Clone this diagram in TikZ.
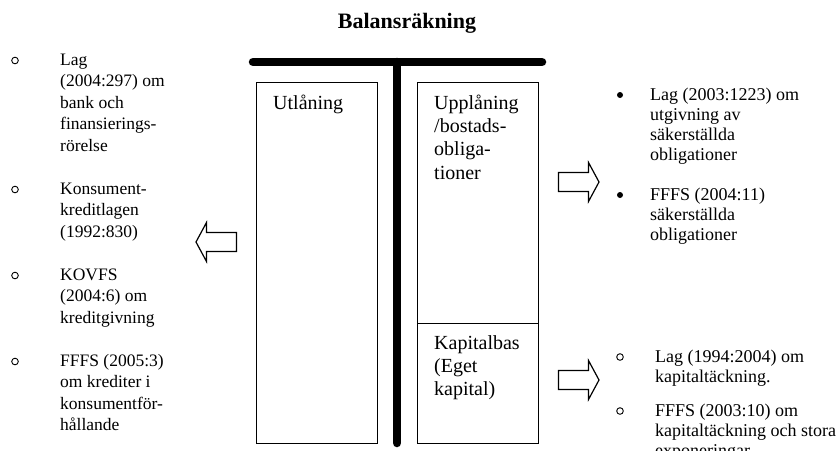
\documentclass[tikz,border=0pt]{standalone}
\usepackage{fontspec}
\setmainfont{Liberation Serif}
\begin{document}
\begin{tikzpicture}[x=1pt,y=-1pt,
  bar/.style={line width=8.5pt,line cap=round},
  box/.style={draw,line width=1.2pt,inner sep=0pt,anchor=north west,minimum width=121pt},
  boxtext/.style={anchor=north west,inner sep=0pt,align=left,font=\fontsize{20}{23.3}\selectfont},
  lefttext/.style={anchor=north west,inner sep=0pt,align=left,font=\fontsize{17.5}{21.5}\selectfont},
  righttext/.style={anchor=north west,inner sep=0pt,align=left,font=\fontsize{18}{20}\selectfont},
  ring/.style={draw,line width=0.9pt,circle,inner sep=0pt,minimum size=6.6pt},
  dot/.style={fill,circle,inner sep=0pt,minimum size=6pt},
  blockarrow/.pic={\draw[line width=1.2pt,line join=miter]
    (0,0) -- (10.5,-19.5) -- (10.5,-9.5) -- (40.5,-9.5) -- (40.5,9.5)
    -- (10.5,9.5) -- (10.5,19.5) -- cycle;}
]
\useasboundingbox (0,0) rectangle (838,450);

% title
\node (title) [font=\bfseries\fontsize{22}{26}\selectfont,anchor=base,inner sep=0pt]
  at (407,28) {Balansräkning};

% balance sheet frame
\coordinate (tl) at (253,62);
\coordinate (tr) at (542,62);
\coordinate (tm) at (397,62);
\coordinate (tb) at (397,443);
\draw[bar] (tl) -- (tr);
\draw[bar] (tm) -- (tb);

\node (assets) [box,minimum height=361pt] at (256,82) {};
\node (debt)   [box,minimum height=241pt] at (417,82) {};
\node (equity) [box,minimum height=120pt] at (417,323) {};

\node (tassets) [boxtext] at (273,92.7) {\strut Utlåning};
\node (tdebt)   [boxtext] at (434,92.7) {\strut Upplåning\\/bostads-\\obliga-\\tioner};
\node (tequity) [boxtext] at (434,332.7) {\strut Kapitalbas\\(Eget\\kapital)};

% arrows
\pic at (196,242) {blockarrow};
\pic[rotate=180] at (599,182) {blockarrow};
\pic[rotate=180] at (599,380) {blockarrow};

% left list
\node (b1) [ring] at (15,60.5) {};
\node (l1) [lefttext] at (60,49.95) {\strut Lag\\(2004:297) om\\bank och\\finansierings-\\rörelse};
\node (b2) [ring] at (15,189.5) {};
\node (l2) [lefttext] at (60,178.95) {\strut Konsument-\\kreditlagen\\(1992:830)};
\node (b3) [ring] at (15,275.5) {};
\node (l3) [lefttext] at (60,264.95) {\strut KOVFS\\(2004:6) om\\kreditgivning};
\node (b4) [ring] at (15,361.5) {};
\node (l4) [lefttext] at (60,350.95) {\strut FFFS (2005:3)\\om krediter i\\konsumentför-\\hållande};

% upper right list
\node (r1b) [dot] at (620,95) {};
\node (r1) [righttext] at (650,86) {\strut Lag (2003:1223) om\\utgivning av\\säkerställda\\obligationer};
\node (r2b) [dot] at (620,195) {};
\node (r2) [righttext] at (650,186) {\strut FFFS (2004:11)\\säkerställda\\obligationer};

% lower right list
\node (r3b) [ring] at (620,357) {};
\node (r3) [righttext] at (655,348) {\strut Lag (1994:2004) om\\kapitaltäckning.};
\node (r4b) [ring] at (620,411) {};
\node (r4) [righttext] at (655,402) {\strut FFFS (2003:10) om\\kapitaltäckning och stora\\exponeringar};
\end{tikzpicture}
\end{document}
